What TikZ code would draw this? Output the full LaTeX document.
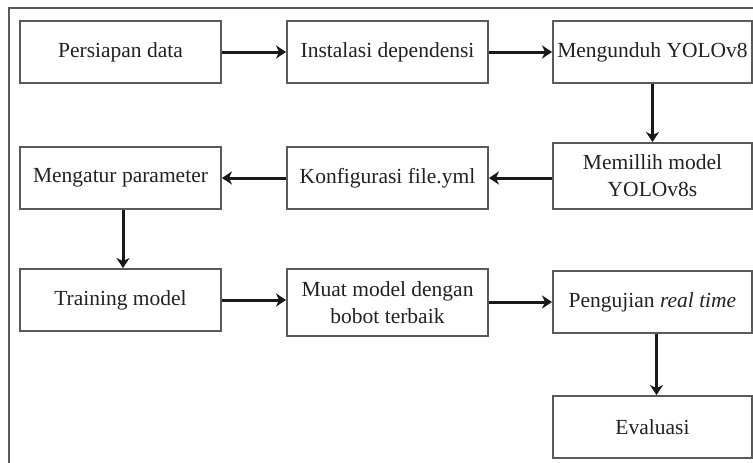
\documentclass[tikz,border=0pt]{standalone}
\usepackage{fontspec}
\setmainfont{Liberation Serif}
\usetikzlibrary{arrows.meta}
\definecolor{boxline}{HTML}{5A5A5A}
\definecolor{txt}{HTML}{222222}
\tikzset{
  stepbox/.style={draw=boxline, line width=1.9pt, rectangle, inner sep=0pt,
    minimum width=201pt, minimum height=62pt, align=center, text=txt,
    font=\fontsize{21.5}{27}\selectfont},
  flow/.style={line width=3pt, black!90, -{Stealth[length=10pt,width=13pt,inset=3pt]}}
}
\begin{document}
\begin{tikzpicture}[x=1pt,y=-1pt]
\useasboundingbox (0,0) rectangle (753,463);
\fill[white] (0,0) rectangle (753,463);
\draw[line width=2pt, boxline] (9,470) -- (9,8) -- (760,8);

\node[stepbox] (b1) at (120.5,52) {Persiapan data};
\node[stepbox] (b2) at (387.5,52) {Instalasi dependensi};
\node[stepbox, minimum width=199pt] (b3) at (652.5,52) {Mengunduh YOLOv8};

\node[stepbox] (b4) at (120.5,178) {Mengatur parameter};
\node[stepbox] (b5) at (387.5,178) {Konfigurasi file.yml};
\node[stepbox, minimum width=199pt, minimum height=66pt] (b6) at (652.5,176) {Memillih model\\YOLOv8s};

\node[stepbox] (b7) at (120.5,300) {Training model};
\node[stepbox, minimum height=67pt] (b8) at (387.5,302.5) {Muat model dengan\\bobot terbaik};
\node[stepbox, minimum width=199pt] (b9) at (652.5,302) {Pengujian \textit{real time}};
\node[stepbox, minimum width=199pt] (b10) at (652.5,427) {Evaluasi};

\draw[flow] (b1.east) -- (b2.west);
\draw[flow] (b2.east) -- (b3.west);
\draw[flow] (b3.south) -- (b6.north);
\draw[flow] (b6.west |- b5.east) -- (b5.east);
\draw[flow] (b5.west) -- (b4.east);
\draw[flow] ([xshift=2.5pt]b4.south) -- ([xshift=2.5pt]b7.north);
\draw[flow] (b7.east) -- (b8.west |- b7.east);
\draw[flow] (b8.east |- b9.west) -- (b9.west);
\draw[flow] ([xshift=4pt]b9.south) -- ([xshift=4pt]b10.north);
\end{tikzpicture}
\end{document}
